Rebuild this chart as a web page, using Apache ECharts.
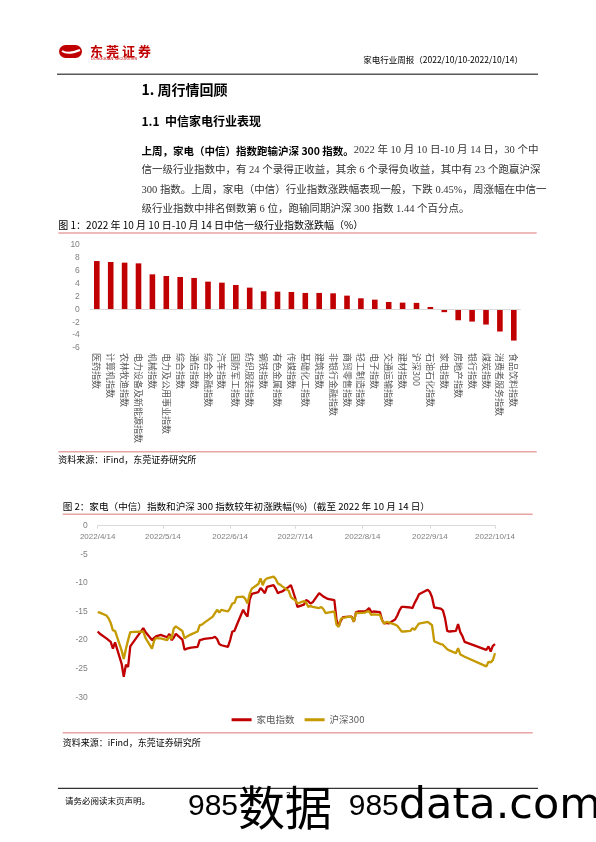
<!DOCTYPE html>
<html>
<head>
<meta charset="utf-8">
<script src="https://cdn.jsdelivr.net/npm/echarts@6/dist/echarts.min.js"></script>
<style>
html,body{margin:0;padding:0;background:#fff;}
#page{width:596px;height:842px;}
</style>
</head>
<body>
<div id="page"></div>
<script>
// ---------- Figure 1 data ----------
const barCategories = ['医药指数','计算机指数','农林牧渔指数','电力设备及新能源指数','机械指数','电力及公用事业指数','综合指数','通信指数','综合金融指数','汽车指数','国防军工指数','纺织服装指数','钢铁指数','有色金属指数','传媒指数','基础化工指数','建筑指数','非银行金融指数','商贸零售指数','轻工制造指数','电子指数','交通运输指数','建材指数','沪深300','石油石化指数','家电指数','房地产指数','银行指数','煤炭指数','消费者服务指数','食品饮料指数'];
const barValues = [7.47,7.32,7.22,7.11,5.41,5.15,5.00,4.85,4.28,4.12,3.76,3.35,2.78,2.73,2.68,2.53,2.53,2.47,2.11,1.70,1.49,1.13,1.03,0.99,0.36,-0.45,-1.70,-1.91,-2.37,-3.45,-4.85];

// ---------- Figure 2 data ----------
const lineDates = ['2022-04-14','2022-04-15','2022-04-18','2022-04-19','2022-04-20','2022-04-21','2022-04-22','2022-04-25','2022-04-26','2022-04-27','2022-04-28','2022-04-29','2022-05-05','2022-05-06','2022-05-09','2022-05-10','2022-05-11','2022-05-12','2022-05-13','2022-05-16','2022-05-17','2022-05-18','2022-05-19','2022-05-20','2022-05-23','2022-05-24','2022-05-25','2022-05-26','2022-05-27','2022-05-30','2022-05-31','2022-06-01','2022-06-02','2022-06-06','2022-06-07','2022-06-08','2022-06-09','2022-06-10','2022-06-13','2022-06-14','2022-06-15','2022-06-16','2022-06-17','2022-06-20','2022-06-21','2022-06-22','2022-06-23','2022-06-24','2022-06-27','2022-06-28','2022-06-29','2022-06-30','2022-07-01','2022-07-04','2022-07-05','2022-07-06','2022-07-07','2022-07-08','2022-07-11','2022-07-12','2022-07-13','2022-07-14','2022-07-15','2022-07-18','2022-07-19','2022-07-20','2022-07-21','2022-07-22','2022-07-25','2022-07-26','2022-07-27','2022-07-28','2022-07-29','2022-08-01','2022-08-02','2022-08-03','2022-08-04','2022-08-05','2022-08-08','2022-08-09','2022-08-10','2022-08-11','2022-08-12','2022-08-15','2022-08-16','2022-08-17','2022-08-18','2022-08-19','2022-08-22','2022-08-23','2022-08-24','2022-08-25','2022-08-26','2022-08-29','2022-08-30','2022-08-31','2022-09-01','2022-09-02','2022-09-05','2022-09-06','2022-09-07','2022-09-08','2022-09-09','2022-09-13','2022-09-14','2022-09-15','2022-09-16','2022-09-19','2022-09-20','2022-09-21','2022-09-22','2022-09-23','2022-09-26','2022-09-27','2022-09-28','2022-09-29','2022-09-30','2022-10-10','2022-10-11','2022-10-12','2022-10-13','2022-10-14'];
const homeApplianceIdx = [-18.5,-18.9,-19.7,-20.0,-20.3,-21.5,-20.4,-24.1,-26.4,-24.3,-24.7,-21.1,-17.9,-18.6,-20.0,-19.6,-19.3,-19.2,-19.1,-19.5,-18.9,-20.0,-19.6,-18.9,-19.9,-21.7,-21.5,-21.4,-21.3,-21.2,-20.0,-19.9,-19.8,-19.6,-19.4,-19.8,-20.7,-20.9,-21.2,-20.0,-18.5,-18.4,-17.4,-14.7,-15.4,-15.9,-12.9,-11.9,-11.6,-10.9,-11.3,-11.8,-10.7,-10.4,-11.0,-11.8,-11.6,-11.5,-10.7,-10.4,-11.5,-12.7,-14.2,-13.8,-13.0,-13.2,-13.6,-13.4,-11.8,-12.1,-12.4,-12.6,-12.8,-13.0,-16.4,-17.6,-16.6,-16.0,-15.9,-15.9,-16.8,-15.1,-15.0,-15.0,-14.8,-14.4,-15.1,-15.0,-15.1,-16.5,-17.1,-17.0,-17.1,-16.4,-15.7,-14.8,-14.2,-14.2,-14.3,-14.4,-13.5,-12.8,-12.0,-11.2,-11.6,-12.5,-14.3,-14.5,-14.8,-16.2,-18.4,-18.5,-18.4,-17.2,-18.6,-19.3,-20.3,-21.7,-21.1,-22.0,-21.0,-20.7];
const hs300Idx = [-15.1,-15.2,-15.7,-16.2,-17.0,-18.3,-18.4,-21.8,-23.3,-21.5,-20.0,-18.6,-18.5,-19.6,-21.5,-20.1,-19.6,-19.7,-19.7,-20.0,-19.3,-19.8,-18.0,-17.6,-18.4,-19.7,-19.4,-19.2,-19.0,-18.5,-17.4,-17.3,-17.0,-15.9,-15.3,-14.7,-15.2,-14.7,-15.0,-14.4,-13.6,-13.5,-12.5,-12.4,-12.8,-13.6,-11.9,-11.0,-10.2,-9.2,-10.4,-9.5,-9.2,-8.9,-9.3,-10.1,-10.3,-10.6,-11.4,-12.5,-12.8,-13.0,-13.6,-13.2,-13.4,-14.2,-14.0,-14.2,-14.4,-14.2,-14.6,-15.3,-15.2,-15.0,-17.3,-17.7,-16.3,-16.1,-15.9,-16.0,-16.8,-15.2,-15.3,-15.2,-15.0,-15.0,-15.6,-15.5,-15.6,-16.6,-17.1,-16.8,-16.9,-17.3,-17.5,-18.0,-18.5,-18.5,-18.4,-17.9,-18.2,-17.6,-17.1,-16.8,-17.1,-17.4,-20.2,-20.7,-20.8,-21.2,-21.6,-21.8,-22.3,-21.4,-22.5,-22.7,-22.9,-24.6,-23.8,-23.9,-23.5,-22.3];
const lineTickDates = ['2022-04-14','2022-05-14','2022-06-14','2022-07-14','2022-08-14','2022-09-14','2022-10-14'];
const lineYMin = -30, lineYMax = 0, lineYStep = 5;
const seriesNames = ['家电指数','沪深300'];

// dates -> day number counted from the first tick date (calendar-day value axis)
const DAY = 86400000;
function ts(s){const p=s.split('-').map(Number);return Date.UTC(p[0],p[1]-1,p[2]);}
const T0 = ts(lineTickDates[0]);
function dayNo(s){return Math.round((ts(s)-T0)/DAY);}
function fmtDay(v){const d=new Date(T0+Math.round(v)*DAY);return d.getUTCFullYear()+'/'+(d.getUTCMonth()+1)+'/'+d.getUTCDate();}

const CJK = '"Noto Sans CJK SC", sans-serif';
const SERIF = '"Liberation Serif", "Noto Sans CJK SC", serif';
const RED = '#C00000';
const GOLD = '#C49A00';
const PINK = '#E8A3A3';

function txt(x,y,text,size,opts){
  opts = opts||{};
  return {type:'text', silent:true, style:{x:x,y:y,text:text,
    font:(opts.weight||'normal')+' '+size+'px '+(opts.family||CJK),
    fill:opts.fill||'#000', textAlign:opts.align||'left', textVerticalAlign:'middle'}};
}
function hline(x1,x2,y,color,w){
  return {type:'line', silent:true, shape:{x1:x1,y1:y,x2:x2,y2:y}, style:{stroke:color,lineWidth:w}};
}

const graphics = [
  {type:'rect', silent:true, shape:{x:59,y:45,width:23,height:13,r:6.5}, style:{fill:RED}},
  {type:'bezierCurve', silent:true, shape:{x1:62,y1:51,cpx1:68,cpy1:55,x2:80,y2:50}, style:{stroke:'#fff',lineWidth:2,fill:null}},
  txt(90,51,'东',13,{fill:RED,weight:'bold'}),
  txt(106,51,'莞',13,{fill:RED,weight:'bold'}),
  txt(122,51,'证',13,{fill:RED,weight:'bold'}),
  txt(138,51,'券',13,{fill:RED,weight:'bold'}),
  txt(91,58.5,'DONGGUAN SECURITIES',3.8,{fill:RED,family:'"Liberation Sans", sans-serif'}),
  txt(523,59.3,'家电行业周报（2022/10/10-2022/10/14）',8.5,{align:'right'}),
  hline(57,538,74.3,'#595959',1.5),
  txt(141.5,89.3,'1. 周行情回顾',14,{weight:'bold'}),
  txt(141.5,121.7,'1.1  中信家电行业表现',12,{weight:'bold'}),
  {type:'text', silent:true, style:{x:141.5,y:150.7,textVerticalAlign:'middle',
    text:'{b|上周，家电（中信）指数跑输沪深 300 指数。}{r|2022 年 10 月 10 日-10 月 14 日，30 个中}',
    rich:{b:{fontFamily:CJK,fontWeight:'bold',fontSize:10.5,fill:'#000'},
          r:{fontFamily:SERIF,fontSize:10.5,fill:'#333'}}}},
  txt(141.5,170.3,'信一级行业指数中，有 24 个录得正收益，其余 6 个录得负收益，其中有 23 个跑赢沪深',10.5,{family:SERIF,fill:'#333'}),
  txt(141.5,190,'300 指数。上周，家电（中信）行业指数涨跌幅表现一般，下跌 0.45%，周涨幅在中信一',10.5,{family:SERIF,fill:'#333'}),
  txt(141.5,209.5,'级行业指数中排名倒数第 6 位，跑输同期沪深 300 指数 1.44 个百分点。',10.5,{family:SERIF,fill:'#333'}),
  txt(58.3,225,'图 1：2022 年 10 月 10 日-10 月 14 日中信一级行业指数涨跌幅（%）',10,{}),
  hline(58.3,536.7,233,PINK,1.5),
  hline(58.3,536.7,451.7,PINK,1.5),
  txt(58.3,460,'资料来源：iFind，东莞证券研究所',9,{}),
  txt(62.7,506.7,'图 2：家电（中信）指数和沪深 300 指数较年初涨跌幅(%)（截至 2022 年 10 月 14 日）',9.6,{}),
  hline(62.7,532.7,514.3,PINK,1.5),
  hline(62.7,532.7,732.7,PINK,1.5),
  txt(62.7,743,'资料来源：iFind，东莞证券研究所',9,{}),
  hline(58,538,788.3,'#333',1.2),
  txt(65,801,'请务必阅读末页声明。',8.5,{}),
  {type:'text', silent:true, style:{x:188,y:807,textVerticalAlign:'middle',
    text:'{n|985}{c|数据}{n|  985}{l|data.com}',
    rich:{n:{fontFamily:'"Liberation Sans", sans-serif',fontSize:30,fill:'#000'},
          c:{fontFamily:CJK,fontSize:47,fill:'#000'},
          l:{fontFamily:'"DejaVu Sans", sans-serif',fontSize:43,fill:'#000'}}}},
  txt(286,795,'3',8,{family:'"Liberation Sans", sans-serif'})
];

const chart = echarts.init(document.getElementById('page'), null, {renderer:'canvas', width:596, height:842});
const axisLabelGray = '#7f7f7f';
const tickDays = lineTickDates.map(dayNo);

// plot rectangle of figure 2
const L2 = {left:97.7, top:525.7, width:397.3, height:171.6};
// label-carrier grid: same scale, extended by one step above so that "0" is an interior tick
const stepPx = L2.height / ((lineYMax - lineYMin) / lineYStep);
const L2lab = {left:L2.left, top:L2.top - stepPx, width:L2.width, height:L2.height + stepPx};
const yLabelStyle = {margin:10, fontFamily:'"Liberation Sans", sans-serif', fontSize:8.5, color:axisLabelGray};

chart.setOption({
  animation:false,
  backgroundColor:'#fff',
  graphic: graphics,
  grid:[
    {left:89.85, top:244.7, width:430.9, height:103.3, containLabel:false},
    Object.assign({containLabel:false}, L2),
    Object.assign({containLabel:false}, L2lab)
  ],
  legend:{
    data:seriesNames, top:710, left:'center', itemWidth:20, itemHeight:3, itemGap:10, icon:'rect',
    textStyle:{fontFamily:CJK, fontSize:9.5, color:'#595959'}
  },
  xAxis:[
    {type:'category', gridIndex:0, data:barCategories,
     axisLine:{show:false, onZero:false}, axisTick:{show:false},
     axisLabel:{rotate:-90, interval:0, margin:5, fontFamily:CJK, fontSize:9, color:'#595959'}},
    {type:'value', gridIndex:1, position:'top', min:tickDays[0], max:tickDays[tickDays.length-1],
     axisLine:{show:true, onZero:false, lineStyle:{color:'#d9d9d9', width:1}},
     axisTick:{show:true, inside:true, length:3, lineStyle:{color:'#d9d9d9'}, customValues:tickDays},
     splitLine:{show:false},
     axisLabel:{inside:true, customValues:tickDays, formatter:fmtDay, margin:7, hideOverlap:false,
       fontFamily:'"Liberation Sans", "Noto Sans", sans-serif', fontSize:8, color:axisLabelGray}},
    {type:'value', gridIndex:2, position:'bottom', min:tickDays[0], max:tickDays[tickDays.length-1],
     axisLine:{show:false, onZero:false}, axisTick:{show:false}, axisLabel:{show:false}, splitLine:{show:false}}
  ],
  yAxis:[
    {type:'value', gridIndex:0, min:-6, max:10, interval:2,
     axisLine:{show:false}, axisTick:{show:false}, splitLine:{show:false},
     axisLabel:yLabelStyle},
    {type:'value', gridIndex:1, min:lineYMin, max:lineYMax, interval:lineYStep,
     axisLine:{show:false}, axisTick:{show:false}, splitLine:{show:false}, axisLabel:{show:false}},
    {type:'value', gridIndex:2, min:lineYMin, max:lineYMax + lineYStep, interval:lineYStep,
     axisLine:{show:false}, axisTick:{show:false}, splitLine:{show:false},
     axisLabel:Object.assign({showMinLabel:true, showMaxLabel:false,
       formatter:function(v){return v > lineYMax ? '' : String(v);}}, yLabelStyle)}
  ],
  series:[
    {type:'bar', xAxisIndex:0, yAxisIndex:0, data:barValues, barWidth:5.6,
     itemStyle:{color:RED},
     markLine:{silent:true, symbol:'none', label:{show:false},
       lineStyle:{color:'#d9d9d9', width:1, type:'solid'}, data:[{yAxis:0}]}},
    {type:'line', name:seriesNames[0], xAxisIndex:1, yAxisIndex:1, symbol:'none', showSymbol:false,
     data:lineDates.map((d,i)=>[dayNo(d), homeApplianceIdx[i]]),
     lineStyle:{color:RED, width:2.3}, itemStyle:{color:RED}},
    {type:'line', name:seriesNames[1], xAxisIndex:1, yAxisIndex:1, symbol:'none', showSymbol:false,
     data:lineDates.map((d,i)=>[dayNo(d), hs300Idx[i]]),
     lineStyle:{color:GOLD, width:2.3}, itemStyle:{color:GOLD}}
  ]
});
</script>
</body>
</html>
